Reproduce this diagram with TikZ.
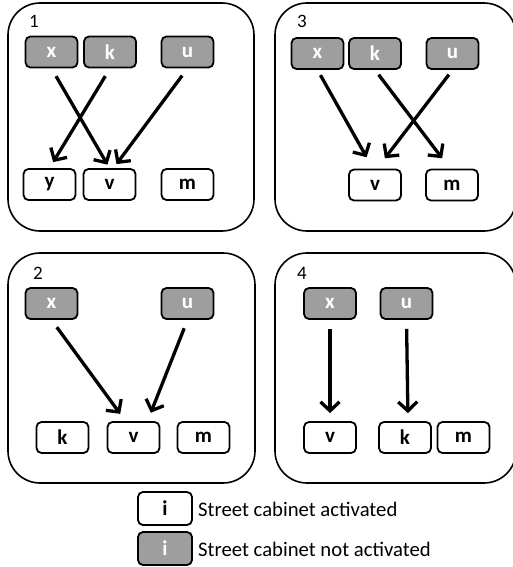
\documentclass[tikz,border=0pt]{standalone}
\usepackage{fontspec}
\setmainfont{Carlito}
\usetikzlibrary{arrows.meta}
\definecolor{offgray}{RGB}{158,158,158}
\tikzset{
  cab/.style={draw=black, line width=1.8pt, rounded corners=5pt, minimum width=52pt, minimum height=31pt, inner sep=0pt, font=\fontsize{21}{24}\selectfont\bfseries},
  off/.style={cab, fill=offgray, text=white},
  on/.style={cab, fill=white, text=black},
  panel/.style={draw=black, line width=1.6pt, rounded corners=32pt},
  num/.style={font=\fontsize{19}{21}\selectfont, inner sep=0pt},
  arr/.style={line width=3.3pt, -{Straight Barb[length=9pt,width=19pt,line width=3.3pt]}},
  legtext/.style={font=\fontsize{20.7}{24}\selectfont, anchor=west, inner sep=0pt}
}
\begin{document}
\begin{tikzpicture}[x=1pt,y=-1pt]
\useasboundingbox (0,0) rectangle (513,567);
% panels
\draw[panel] (8,3) rectangle (254,231);
\draw[panel] (275,3) rectangle (516,231);
\draw[panel] (8,253) rectangle (255,483);
\draw[panel] (275,253) rectangle (516,483);
\node[num] (n1) at (34,21) {1};
\node[num] (n3) at (302,21) {3};
\node[num] (n2) at (38,273) {2};
\node[num] (n4) at (302,273) {4};
% panel 1
\node[off] (x1) at (51.5,52) {x};
\node[off] (k1) at (110,52) {k};
\node[off] (u1) at (187.5,52) {u};
\node[on] (y1) at (49.5,184.5) {y};
\node[on] (v1) at (109.5,184.5) {v};
\node[on] (m1) at (187.5,184.5) {m};
\draw[arr, shorten <=9pt, shorten >=4pt] (x1.south) -- (v1.north);
\draw[arr, shorten <=9pt, shorten >=7pt] (k1.south) -- (y1.north);
\draw[arr, shorten <=9pt, shorten >=5pt] (u1.south) -- ([xshift=4pt]v1.north);
% panel 3
\node[off] (x3) at (317.5,53.5) {x};
\node[off] (k3) at (375,53.5) {k};
\node[off] (u3) at (452.5,53.5) {u};
\node[on] (v3) at (375,185) {v};
\node[on] (m3) at (452,185) {m};
\draw[arr, shorten <=6pt, shorten >=13pt] (x3.south) -- ([xshift=-2pt]v3.north);
\draw[arr, shorten <=6pt, shorten >=13pt] (k3.south) -- ([xshift=-2pt]m3.north);
\draw[arr, shorten <=6pt, shorten >=13pt] (u3.south) -- ([xshift=2pt]v3.north);
% panel 2
\node[off] (x2) at (51.5,303.5) {x};
\node[off] (u2) at (187.5,303.5) {u};
\node[on] (k2) at (62.5,437.5) {k};
\node[on] (v2) at (133.5,437.5) {v};
\node[on] (m2) at (203.5,437.5) {m};
\draw[arr, shorten <=9pt, shorten >=9pt] (x2.south) -- ([xshift=-8pt]v2.north);
\draw[arr, shorten <=9pt, shorten >=9pt] (u2.south) -- ([xshift=14pt]v2.north);
% panel 4
\node[off] (x4) at (330,303.5) {x};
\node[off] (u4) at (406.5,303.5) {u};
\node[on] (v4) at (330,437.5) {v};
\node[on] (k4) at (405,437.5) {k};
\node[on] (m4) at (463.5,437.5) {m};
\draw[arr, shorten <=9pt, shorten >=8pt] (x4.south) -- (v4.north);
\draw[arr, shorten <=9pt, shorten >=8pt] (u4.south) -- ([xshift=1.5pt]u4.south |- k4.north);
% legend
\node[on, minimum height=33pt, minimum width=54pt] (la) at (165,508.5) {i};
\node[off, minimum height=33pt, minimum width=54pt] (lb) at (165,548.5) {i};
\node[legtext] (ta) at (198,509) {Street cabinet activated};
\node[legtext] (tb) at (198,549) {Street cabinet not activated};
\end{tikzpicture}
\end{document}
